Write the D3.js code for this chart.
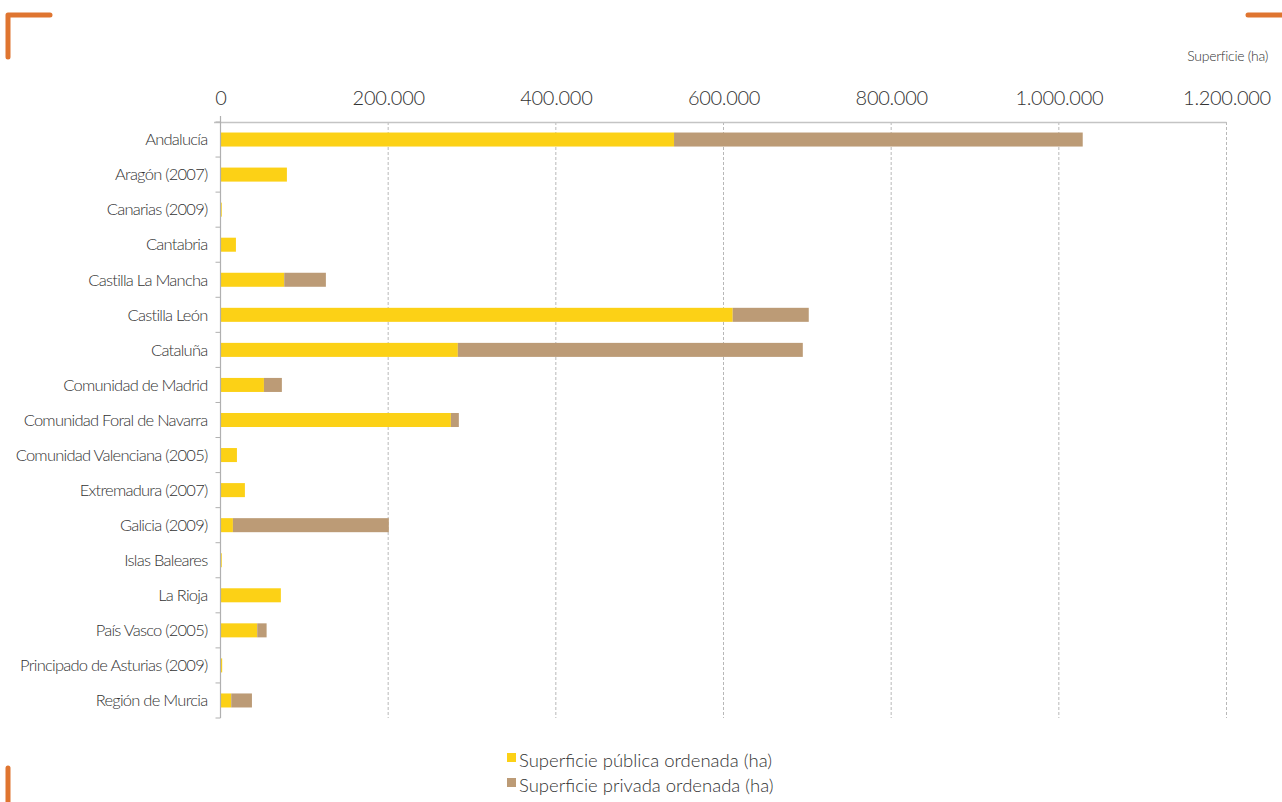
<!DOCTYPE html>
<html><head><meta charset="utf-8">
<script src="https://cdn.jsdelivr.net/npm/d3@7"></script>
<style>
body{margin:0;background:#fff;}
text{font-family:Lato,"Open Sans",sans-serif;font-weight:300;fill:#333;}
</style></head><body>
<svg id="c" width="1282" height="802"></svg>
<script>
const categories = ["Andalucía","Aragón (2007)","Canarias (2009)","Cantabria","Castilla La Mancha","Castilla León","Cataluña","Comunidad de Madrid","Comunidad Foral de Navarra","Comunidad Valenciana (2005)","Extremadura (2007)","Galicia (2009)","Islas Baleares","La Rioja","País Vasco (2005)","Principado de Asturias (2009)","Región de Murcia"];
const publica = [541000,79200,1500,18400,76000,611000,283100,51800,274800,19600,29100,14800,1500,72000,43800,2000,12800];
const privada = [487500,0,0,0,49700,90700,411500,21400,9500,0,0,186000,0,0,11200,0,24700];
const tickValues = [0,200000,400000,600000,800000,1000000,1200000];
const seriesNames = ["Superficie pública ordenada (ha)","Superficie privada ordenada (ha)"];
const colors = ["#FCD116","#BC9B76"];

const svg = d3.select("#c");
const x = d3.scaleLinear().domain([0,1200000]).range([220.5,1226.5]);
const y = d3.scaleBand().domain(categories).range([122,718]).paddingInner(0.6).paddingOuter(0.3);
const yb = d3.scaleBand().domain(categories).range([122,718]);
const fmt = v => d3.format(",")(v).replace(/,/g,".");

// gridlines
svg.append("g").selectAll("line").data(tickValues.slice(1)).join("line")
  .attr("x1",d=>x(d)).attr("x2",d=>x(d)).attr("y1",122).attr("y2",718)
  .attr("stroke","#b8b8b8").attr("stroke-dasharray","3,2").attr("stroke-width",1);

// top axis
const xa = svg.append("g").attr("transform","translate(0,122.5)")
  .call(d3.axisTop(x).tickValues(tickValues).tickFormat(fmt).tickSize(0).tickPadding(18));
xa.select(".domain").attr("stroke","#c4c4c4").attr("stroke-width",1.5).attr("d","M214,0H1226.5");
xa.selectAll("text").style("font-size","20px").style("font-family","Lato,sans-serif").style("font-weight","300").style("letter-spacing","-0.3px").attr("fill","#333");

// stacked data
const data = categories.map((c,i)=>({cat:c,pub:publica[i],priv:privada[i]}));
const stack = d3.stack().keys(["pub","priv"])(data);
svg.append("g").selectAll("g").data(stack).join("g").attr("fill",(d,i)=>colors[i])
  .selectAll("rect").data(d=>d).join("rect")
  .attr("x",d=>x(d[0])).attr("width",d=>Math.max(0,x(d[1])-x(d[0])))
  .attr("y",d=>y(d.data.cat)).attr("height",y.bandwidth());

// left axis
const ya = svg.append("g").attr("transform","translate(220.5,0)");
ya.append("line").attr("x1",0).attr("x2",0).attr("y1",116).attr("y2",718).attr("stroke","#b0b0b0").attr("stroke-width",1.2);
const bounds = categories.map(c=>yb(c)).concat([718]);
ya.selectAll("line.t").data(bounds).join("line").attr("class","t")
  .attr("x1",-5).attr("x2",0).attr("y1",d=>d).attr("y2",d=>d).attr("stroke","#b0b0b0");
ya.selectAll("text").data(categories).join("text")
  .attr("x",-13).attr("y",d=>yb(d)+yb.bandwidth()/2).attr("dy","0.35em")
  .attr("text-anchor","end").style("font-size","16.5px").style("letter-spacing","-0.75px").text(d=>d);

// unit label
svg.append("text").attr("x",1268).attr("y",61).attr("text-anchor","end").style("font-size","14px").style("letter-spacing","-0.3px").text("Superficie (ha)");

// legend
const lg = svg.append("g");
seriesNames.forEach((s,i)=>{
  lg.append("rect").attr("x",507).attr("y",753+i*25).attr("width",9).attr("height",9).attr("fill",colors[i]);
  lg.append("text").attr("x",519).attr("y",767+i*25).style("font-size","18.5px").text(s);
});

// corner decorations
const o = "#DF7530";
svg.append("path").attr("d","M8,57V15H50").attr("fill","none").attr("stroke",o).attr("stroke-width",5).attr("stroke-linecap","round").attr("stroke-linejoin","round");
svg.append("path").attr("d","M1248,15H1290").attr("fill","none").attr("stroke",o).attr("stroke-width",5).attr("stroke-linecap","round");
svg.append("path").attr("d","M8,768V810").attr("fill","none").attr("stroke",o).attr("stroke-width",5).attr("stroke-linecap","round");
</script></body></html>
